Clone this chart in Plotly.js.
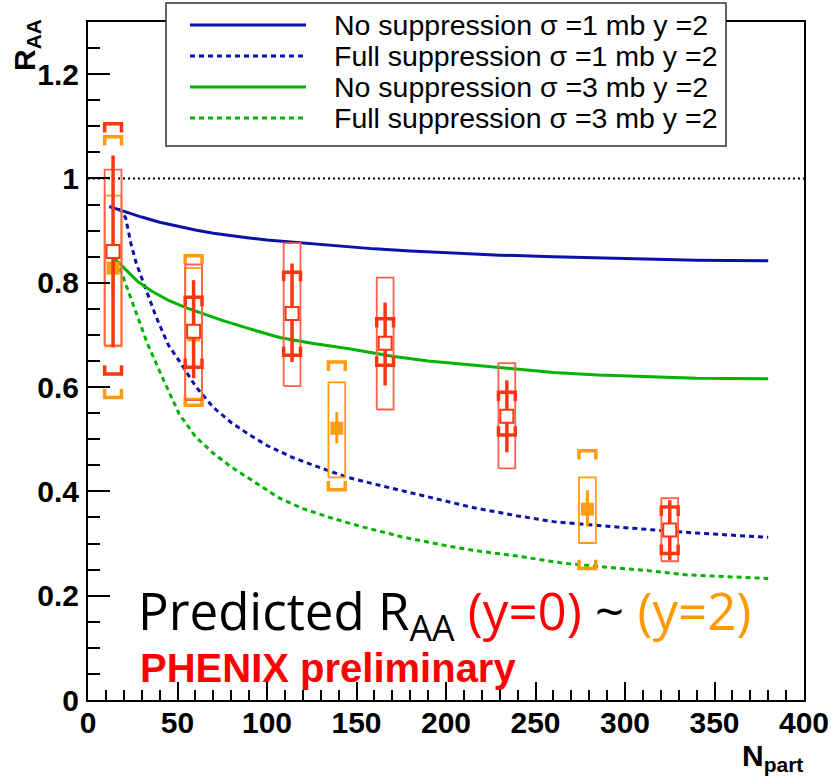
<!DOCTYPE html>
<html><head><meta charset="utf-8">
<script src="https://cdn.plot.ly/plotly-3.0.1.min.js"></script>
<style>html,body{margin:0;padding:0;background:#fff;}</style>
</head><body>
<div id="chart" style="width:831px;height:783px;"></div>
<script>
// ---- model curves (Npart, R_AA) ----
const blueSolidX = [12,20,30,40,50,60,70,80,90,100,120,140,160,180,200,230,260,300,340,380];
const blueSolidY = [0.946,0.937,0.926,0.916,0.908,0.901,0.895,0.890,0.886,0.882,0.876,0.870,0.865,0.861,0.858,0.853,0.850,0.846,0.843,0.842];
const blueDotX = [12,18,21,24,27,32,38,45,52,60,70,80,90,100,115,130,145,160,175,200,215,240,260,280,300,320,340,360,380];
const blueDotY = [0.946,0.940,0.925,0.875,0.837,0.790,0.735,0.680,0.645,0.602,0.561,0.532,0.509,0.488,0.464,0.445,0.427,0.414,0.402,0.381,0.369,0.353,0.342,0.336,0.330,0.325,0.320,0.316,0.312];
const greenSolidX = [12,20,28,35,45,55,65,75,90,107,125,145,170,190,213,240,260,285,310,340,380];
const greenSolidY = [0.856,0.828,0.802,0.785,0.766,0.752,0.740,0.728,0.712,0.695,0.684,0.674,0.659,0.650,0.643,0.634,0.628,0.623,0.620,0.617,0.616];
const greenDotX = [12,16,19,23,27,33,42,51,60,70,80,90,107,120,135,150,175,200,215,240,264,288,310,334,360,380];
const greenDotY = [0.856,0.840,0.817,0.780,0.740,0.685,0.615,0.548,0.505,0.473,0.447,0.425,0.387,0.367,0.350,0.335,0.313,0.296,0.287,0.276,0.263,0.255,0.249,0.240,0.236,0.233];

// ---- PHENIX y=0 (red) ----
const redNpart  = [14, 59, 114, 166, 234, 325];
const redVal    = [0.860, 0.707, 0.741, 0.684, 0.544, 0.326];
const redStatHi = [1.044, 0.805, 0.837, 0.762, 0.613, 0.383];
const redStatLo = [0.676, 0.617, 0.648, 0.603, 0.475, 0.268];
const redCapHi  = [1.105, 0.772, 0.820, 0.731, 0.590, 0.370];
const redCapLo  = [0.625, 0.638, 0.661, 0.642, 0.508, 0.281];
const redBoxHi  = [1.017, 0.835, 0.876, 0.810, 0.646, 0.387];
const redBoxLo  = [0.680, 0.575, 0.602, 0.557, 0.444, 0.266];

// ---- PHENIX y=2 (orange) ----
const orgNpart  = [14, 59, 139, 279];
const orgVal    = [0.828, 0.700, 0.521, 0.366];
const orgStatHi = [0.880, 0.750, 0.552, 0.402];
const orgStatLo = [0.780, 0.650, 0.492, 0.332];
const orgBoxHi  = [0.967, 0.828, 0.609, 0.427];
const orgBoxLo  = [0.678, 0.578, 0.427, 0.301];
const orgBrkHi  = [1.080, 0.852, 0.648, 0.478];
const orgBrkLo  = [0.580, 0.565, 0.403, 0.252];

const legendLabels = [
  "No suppression \u03c3 =1 mb y =2",
  "Full suppression \u03c3 =1 mb y =2",
  "No suppression \u03c3 =3 mb y =2",
  "Full suppression \u03c3 =3 mb y =2"
];

// ---- styles ----
const BLUE = '#0a12a8', GREEN = '#00b300', RED = '#ff3510', REDBOX = '#ff6048', ORG = '#ff9c10';
const HW = 4.7;      // half width of boxes (Npart units)
const TK = 0.017;    // bracket tick length (R_AA units)
const DOTS = '5px,4px';

function boxPath(xs, lo, hi, hw) {
  const X = [], Y = [];
  xs.forEach((x, i) => {
    X.push(x-hw, x+hw, x+hw, x-hw, x-hw, null);
    Y.push(lo[i], lo[i], hi[i], hi[i], lo[i], null);
  });
  return {X, Y};
}
function vlinePath(xs, lo, hi) {
  const X = [], Y = [];
  xs.forEach((x, i) => { X.push(x, x, null); Y.push(lo[i], hi[i], null); });
  return {X, Y};
}
function bracketPath(xs, lo, hi, hw) {
  const X = [], Y = [];
  xs.forEach((x, i) => {
    X.push(x-hw, x-hw, x+hw, x+hw, null);
    Y.push(hi[i]-TK, hi[i], hi[i], hi[i]-TK, null);
    X.push(x-hw, x-hw, x+hw, x+hw, null);
    Y.push(lo[i]+TK, lo[i], lo[i], lo[i]+TK, null);
  });
  return {X, Y};
}

const traces = [];
// reference line at 1
traces.push({x:[0,400], y:[1,1], mode:'lines', line:{color:'#000', width:2, dash:'2px,3px'}, hoverinfo:'skip'});
// curves
traces.push({x:blueSolidX, y:blueSolidY, mode:'lines', line:{color:BLUE, width:3, shape:'linear'}, name:legendLabels[0]});
traces.push({x:blueDotX, y:blueDotY, mode:'lines', line:{color:BLUE, width:3, dash:DOTS}, name:legendLabels[1]});
traces.push({x:greenSolidX, y:greenSolidY, mode:'lines', line:{color:GREEN, width:3}, name:legendLabels[2]});
traces.push({x:greenDotX, y:greenDotY, mode:'lines', line:{color:GREEN, width:3, dash:DOTS}, name:legendLabels[3]});

// orange (y=2)
let p = boxPath(orgNpart, orgBoxLo, orgBoxHi, HW);
traces.push({x:p.X, y:p.Y, mode:'lines', line:{color:ORG, width:1.8}, hoverinfo:'skip'});
p = bracketPath(orgNpart, orgBrkLo, orgBrkHi, HW);
traces.push({x:p.X, y:p.Y, mode:'lines', line:{color:ORG, width:3.5}, hoverinfo:'skip'});
p = vlinePath(orgNpart, orgStatLo, orgStatHi);
traces.push({x:p.X, y:p.Y, mode:'lines', line:{color:ORG, width:3}, hoverinfo:'skip'});
traces.push({x:orgNpart, y:orgVal, mode:'markers', marker:{symbol:'square', size:13, color:ORG}});

// red (y=0)
p = boxPath(redNpart, redBoxLo, redBoxHi, HW);
traces.push({x:p.X, y:p.Y, mode:'lines', line:{color:REDBOX, width:1.8}, hoverinfo:'skip'});
p = vlinePath(redNpart, redStatLo, redStatHi);
traces.push({x:p.X, y:p.Y, mode:'lines', line:{color:RED, width:3.5}, hoverinfo:'skip'});
p = bracketPath(redNpart, redCapLo, redCapHi, HW);
traces.push({x:p.X, y:p.Y, mode:'lines', line:{color:RED, width:3.5}, hoverinfo:'skip'});
traces.push({x:redNpart, y:redVal, mode:'markers', marker:{symbol:'square', size:13, color:'#fff', line:{color:RED, width:2}}});

// ---- manual legend (pixel geometry mapped to paper coords) ----
const L = 88, R = 804, T = 22, B = 700;
const px = v => (v - L) / (R - L);
const py = v => (B - v) / (B - T);
const legendColors = [BLUE, BLUE, GREEN, GREEN];
const legendDash = ['solid', DOTS, 'solid', DOTS];
const legendRowsPx = [25, 56, 87, 118];

const shapes = [{type:'rect', xref:'paper', yref:'paper', x0:px(166), x1:px(726), y0:py(146), y1:py(3),
  fillcolor:'#fff', line:{color:'#333', width:1.5}, layer:'above'}];
const annotations = [];
legendLabels.forEach((lab, i) => {
  shapes.push({type:'line', xref:'paper', yref:'paper', x0:px(190), x1:px(306), y0:py(legendRowsPx[i]), y1:py(legendRowsPx[i]),
    line:{color:legendColors[i], width:3, dash:legendDash[i]}, layer:'above'});
  annotations.push({xref:'paper', yref:'paper', x:px(332), y:py(legendRowsPx[i]), xanchor:'left', yanchor:'middle',
    text:lab, showarrow:false, font:{family:'Liberation Sans, Arial, sans-serif', size:28.5, color:'#000'}});
});

annotations.push({xref:'paper', yref:'paper', x:px(27), y:py(45), xanchor:'center', yanchor:'middle', textangle:-90,
  text:'R<sub>AA</sub>', showarrow:false, font:{family:'Liberation Sans, Arial, sans-serif', size:30, color:'#000', weight:'bold'}});
annotations.push({xref:'paper', yref:'paper', x:px(772), y:py(757), xanchor:'center', yanchor:'middle',
  text:'N<sub>part</sub>', showarrow:false, font:{family:'Liberation Sans, Arial, sans-serif', size:30, color:'#000', weight:'bold'}});
annotations.push({xref:'paper', yref:'paper', x:px(136), y:py(613), xanchor:'left', yanchor:'middle',
  text:'Predicted R<sub>AA</sub> <span style="color:#ff0000">(y=0)</span> ~ <span style="color:#ff9900">(y=2)</span>',
  showarrow:false, font:{family:'Open Sans, sans-serif', size:51, color:'#000'}});
annotations.push({xref:'paper', yref:'paper', x:px(138), y:py(668), xanchor:'left', yanchor:'middle',
  text:'PHENIX preliminary', showarrow:false, font:{family:'Liberation Sans, Arial, sans-serif', size:40, color:'#ff0000', weight:'bold'}});

const tickFont = {family:'Liberation Sans, Arial, sans-serif', size:30, color:'#000', weight:'bold'};
const layout = {
  width:831, height:783,
  margin:{l:L, r:831-R, t:T, b:783-B, pad:0},
  paper_bgcolor:'#fff', plot_bgcolor:'#fff',
  showlegend:false,
  xaxis:{range:[0,400], tick0:0, dtick:50, ticks:'inside', ticklen:18, tickwidth:2, tickcolor:'#000',
    minor:{dtick:10, ticks:'inside', ticklen:10, tickwidth:2, tickcolor:'#000', showgrid:false},
    showline:true, linecolor:'#000', linewidth:2, mirror:true, showgrid:false, zeroline:false,
    tickfont:tickFont, ticklabelstandoff:-5, fixedrange:true},
  yaxis:{range:[0,1.3], tick0:0, dtick:0.2, ticks:'inside', ticklen:22, tickwidth:2, tickcolor:'#000',
    minor:{dtick:0.05, ticks:'inside', ticklen:12, tickwidth:2, tickcolor:'#000', showgrid:false},
    showline:true, linecolor:'#000', linewidth:2, mirror:true, showgrid:false, zeroline:false,
    tickfont:tickFont, ticklabelstandoff:1, fixedrange:true},
  shapes:shapes,
  annotations:annotations
};
Plotly.newPlot('chart', traces, layout, {staticPlot:true, displayModeBar:false});
</script>
</body></html>
